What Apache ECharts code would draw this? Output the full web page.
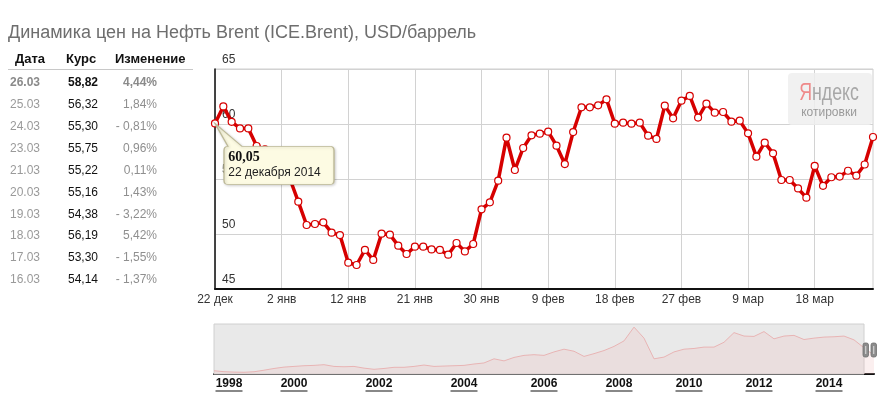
<!DOCTYPE html>
<html>
<head>
<meta charset="utf-8">
<script src="https://cdn.jsdelivr.net/npm/echarts@6/dist/echarts.min.js"></script>
<style>
html,body{margin:0;padding:0;background:#fff;}
#c{width:890px;height:393px;}
</style>
</head>
<body>
<div id="c"></div>
<script>
// ---- main chart data ----
const dates = [
'22 дек','23 дек','24 дек','26 дек','27 дек','29 дек','30 дек','31 дек',
'2 янв','3 янв','5 янв','6 янв','7 янв','8 янв','9 янв','10 янв',
'12 янв','13 янв','14 янв','15 янв','16 янв','17 янв','19 янв','20 янв',
'21 янв','22 янв','23 янв','24 янв','26 янв','27 янв','28 янв','29 янв',
'30 янв','31 янв','2 фев','3 фев','4 фев','5 фев','6 фев','7 фев',
'9 фев','10 фев','11 фев','12 фев','13 фев','14 фев','16 фев','17 фев',
'18 фев','19 фев','20 фев','21 фев','23 фев','24 фев','25 фев','26 фев',
'27 фев','28 фев','2 мар','3 мар','4 мар','5 мар','6 мар','7 мар',
'9 мар','10 мар','11 мар','12 мар','13 мар','14 мар','16 мар','17 мар',
'18 мар','19 мар','20 мар','21 мар','23 мар','24 мар','25 мар','26 мар'
];
const prices = [
60.05,61.6,60.2,59.6,59.6,58.0,57.7,57.4,
56.3,55.0,52.94,50.82,50.91,51.06,50.12,49.9,
47.39,47.18,48.55,47.64,50.03,49.94,48.94,48.18,
48.85,48.85,48.6,48.55,48.12,49.18,48.42,49.09,
52.24,52.88,54.85,58.76,55.82,57.82,58.97,59.12,
59.3,58.03,56.36,59.27,61.52,61.52,61.7,62.24,
60.03,60.12,60.03,60.12,58.94,58.64,61.67,60.52,
62.12,62.55,60.58,61.85,61.03,61.09,60.21,60.3,
59.15,57.03,58.3,57.33,54.91,54.91,54.14,53.30,
56.19,54.38,55.16,55.22,55.75,55.30,56.32,58.82
];
const yTicks = [45, 50, 55, 60, 65];
const tipDate = '22 декабря 2014';

// ---- table data ----
const tableDates = ['26.03','25.03','24.03','23.03','21.03','20.03','19.03','18.03','17.03','16.03'];
const tableRates = ['58,82','56,32','55,30','55,75','55,22','55,16','54,38','56,19','53,30','54,14'];
const tableChanges = ['4,44%','1,84%','- 0,81%','0,96%','0,11%','1,43%','- 3,22%','5,42%','- 1,55%','- 1,37%'];
const tableHeaders = ['Дата','Курс','Изменение'];

// ---- navigator data (1998 - 2015, long history) ----
const navValues = [
13.5,10.7,9.5,9,10.5,15,20,24,26,28,
29,31,26,25,26,21,17.6,20,23.4,23.4,
26,30,26,27,28,29,33,36,48,42,
52,58,60,58,68,76,70,55,63,72,
84,100,140,108,48,53,68,76,78,82,
82,96,124,114,113,127,106,114,116,104,
108,111,112,114,103,80,58
];
const navYearLabels = ['1998','2000','2002','2004','2006','2008','2010','2012','2014'];
const navYearSlots = [3,16,33,50,66,81,95,109,123];
const navSlotCount = 133;

const navCats = navValues.map((_, i) => String(i));
const navLabelCats = Array.from({length: navSlotCount}, (_, i) => {
  const k = navYearSlots.indexOf(i);
  return k >= 0 ? navYearLabels[k] : '_' + i;
});

const FONT = "'Liberation Sans', Arial, sans-serif";
const chart = echarts.init(document.getElementById('c'));

// table graphics
const tableGraphics = [];
const hx = [15, 66, 115];
tableHeaders.forEach((h, i) => {
  tableGraphics.push({type:'text', left: hx[i], top: 53, style:{text:h, font:"bold 13px " + FONT, fill:'#111'}});
});
tableGraphics.push({type:'line', shape:{x1:8, y1:69.5, x2:193, y2:69.5}, style:{stroke:'#c8c8c8', lineWidth:1}});
tableDates.forEach((d, i) => {
  const y = 82.5 + 21.95 * i;
  const bold = i === 0 ? 'bold ' : '';
  tableGraphics.push({type:'text', x: 10, y: y, style:{text:d, font: bold + "12px " + FONT, fill: i===0 ? '#8a8a8a' : '#9a9a9a', textVerticalAlign:'middle', textAlign:'left'}});
  tableGraphics.push({type:'text', x: 68, y: y, style:{text:tableRates[i], font: bold + "12px " + FONT, fill:'#111', textVerticalAlign:'middle', textAlign:'left'}});
  tableGraphics.push({type:'text', x: 157, y: y, style:{text:tableChanges[i], font: bold + "12px " + FONT, fill: i===0 ? '#8a8a8a' : '#8f8f8f', textVerticalAlign:'middle', textAlign:'right'}});
});

// logo
const logo = [
  {type:'rect', shape:{x:788, y:73, width:84, height:52, r:4}, style:{fill:'rgba(238,238,238,0.85)'}, z: 10},
  {type:'text', x:829, y:93, scaleX: 0.74, z: 11, style:{text:'{r|Я}{g|ндекс}', textAlign:'center', textVerticalAlign:'middle',
     rich:{r:{fontFamily:FONT, fontSize:24, fill:'#ef8a8a', color:'#ef8a8a'},
           g:{fontFamily:FONT, fontSize:24, fill:'#a8a8a8', color:'#a8a8a8'}}}},
  {type:'text', x:829, y:113, z: 11, style:{text:'котировки', font:"12px " + FONT, fill:'#9a9a9a', textAlign:'center', textVerticalAlign:'middle'}}
];

// navigator handles
const handles = [];
[[863, 343], [871, 343]].forEach(([x, y]) => {
  handles.push({type:'rect', shape:{x:x, y:y, width:5.5, height:14, r:2}, style:{fill:'#8c8c8c', stroke:'#6e6e6e', lineWidth:0.8}, z: 20});
  handles.push({type:'line', shape:{x1:x+2.75, y1:y+3, x2:x+2.75, y2:y+11}, style:{stroke:'#e0e0e0', lineWidth:1}, z: 21});
});

const tipPath = 'path://M0,0 L27,23 L115,23 Q119,23 119,27 L119,57 Q119,61 115,61 L13,61 Q9,61 9,57 L9,27 Q9,23 13,23 Z';

chart.setOption({
  animation: false,
  title: {
    text: 'Динамика цен на Нефть Brent (ICE.Brent), USD/баррель',
    left: 3, top: 19,
    textStyle: {fontFamily: FONT, fontSize: 18, fontWeight: 'normal', color: '#6e6e6e'}
  },
  grid: [
    {left: 215, top: 69, width: 658, height: 220, show: true, borderColor: '#cfcfcf', borderWidth: 1, outerBoundsMode: 'none', containLabel: false},
    {left: 214, top: 324, width: 660, height: 50, outerBoundsMode: 'none', containLabel: false}
  ],
  xAxis: [
    {
      type: 'category', gridIndex: 0, data: dates, boundaryGap: false,
      axisLine: {lineStyle: {color: '#111', width: 2}},
      axisTick: {show: false},
      axisLabel: {interval: (i) => i % 8 === 0, color: '#333', fontFamily: FONT, fontSize: 12, margin: 5},
      splitLine: {show: true, interval: (i) => i % 8 === 0, lineStyle: {color: '#d2d2d2', width: 1}}
    },
    {
      type: 'category', gridIndex: 1, data: navCats, boundaryGap: false,
      axisLine: {lineStyle: {color: '#111', width: 2}},
      axisTick: {show: false}, axisLabel: {show: false}, splitLine: {show: false}
    },
    {
      type: 'category', gridIndex: 1, data: navLabelCats, boundaryGap: false, position: 'bottom',
      axisLine: {show: false}, axisTick: {show: false}, splitLine: {show: false},
      axisLabel: {
        interval: 0, margin: 4,
        formatter: (v) => v.charAt(0) === '_' ? '' : '{y|' + v + '}\n{u|}',
        rich: {
          y: {fontFamily: FONT, fontSize: 12, fontWeight: 'bold', color: '#111', lineHeight: 12},
          u: {width: 27, height: 1, lineHeight: 2, backgroundColor: '#111'}
        }
      }
    }
  ],
  yAxis: [
    {
      type: 'value', gridIndex: 0, min: yTicks[0], max: yTicks[yTicks.length - 1], interval: 5,
      axisLine: {show: true, lineStyle: {color: '#111', width: 1.5}},
      axisTick: {show: false},
      axisLabel: {inside: true, margin: 7, verticalAlign: 'bottom', padding: [0, 0, 3, 0], color: '#333', fontFamily: FONT, fontSize: 12},
      splitLine: {lineStyle: {color: '#d2d2d2', width: 1}}
    },
    {
      type: 'value', gridIndex: 1, min: 4, max: 149, show: false, splitLine: {show: false}
    }
  ],
  series: [
    {
      type: 'line', xAxisIndex: 0, yAxisIndex: 0, data: prices,
      showAllSymbol: true, symbol: 'circle', symbolSize: 7,
      lineStyle: {color: '#d60000', width: 3.5},
      itemStyle: {color: '#ffffff', borderColor: '#d60000', borderWidth: 1.2},
      z: 3,
      markPoint: {
        silent: true,
        symbol: tipPath, symbolSize: [119, 61], symbolOffset: [59.5, 30.5],
        itemStyle: {color: '#fdfbe3', borderColor: '#bdb997', borderWidth: 1, shadowColor: 'rgba(0,0,0,0.18)', shadowBlur: 3, shadowOffsetX: 1, shadowOffsetY: 1},
        label: {
          show: true, position: [14, 26], align: 'left', verticalAlign: 'top',
          formatter: () => '{b|' + prices[0].toFixed(2).replace('.', ',') + '}\n{d|' + tipDate + '}',
          rich: {
            b: {fontFamily: "'Liberation Serif', serif", fontWeight: 'bold', fontSize: 14, color: '#111', lineHeight: 16},
            d: {fontFamily: FONT, fontSize: 12, color: '#222', lineHeight: 16}
          }
        },
        data: [{coord: [dates[0], prices[0]]}]
      }
    },
    {
      type: 'line', xAxisIndex: 1, yAxisIndex: 1, data: navValues,
      symbol: 'none', silent: true,
      lineStyle: {color: '#e8b4b4', width: 1},
      areaStyle: {color: 'rgba(240,190,190,0.35)'},
      markArea: {
        silent: true,
        itemStyle: {color: '#e9e9e9', borderColor: '#d0d0d0', borderWidth: 1},
        data: [[{xAxis: navCats[0]}, {xAxis: navCats[65]}]]
      }
    }
  ],
  graphic: tableGraphics.concat(logo, handles)
});
</script>
</body>
</html>
